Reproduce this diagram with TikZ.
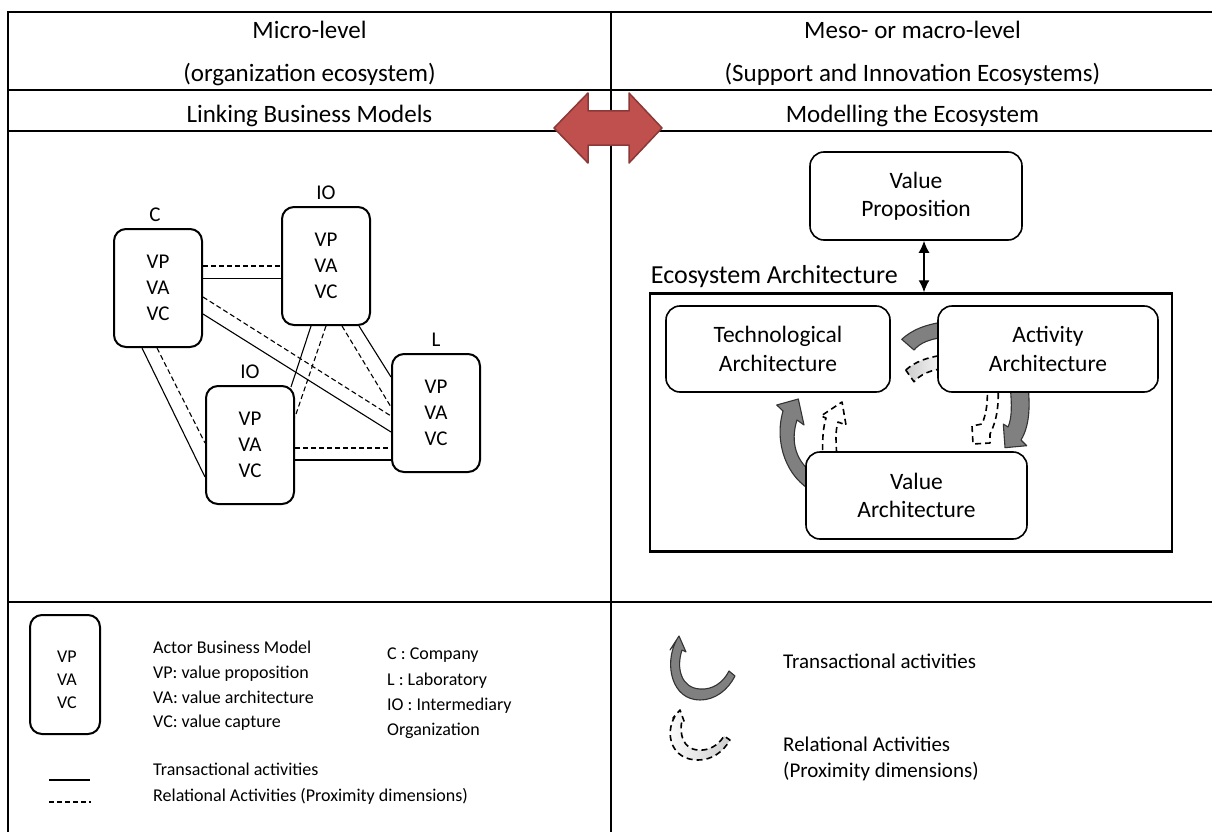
\documentclass[tikz,border=0pt]{standalone}
\usepackage{fontspec}
\setmainfont{Carlito}
\usetikzlibrary{arrows.meta,positioning}
\definecolor{bridgefill}{RGB}{192,80,77}
\definecolor{bridgeline}{RGB}{140,56,54}
\definecolor{transgray}{RGB}{128,128,128}
\definecolor{relgray}{RGB}{205,205,205}

\begin{document}
\begin{tikzpicture}[
        x=1pt, y=-1pt,
        grid/.style={line width=2pt},
        heading/.style={align=center, inner sep=0pt, font=\fontsize{25}{43}\selectfont},
        actor/.style={
            draw,
            line width=2pt,
            rounded corners=12pt,
            align=center,
            minimum width=88pt,
            minimum height=118pt,
            font=\fontsize{21}{26}\selectfont
        },
        actorname/.style={inner sep=0pt, font=\fontsize{21}{26}\selectfont},
        arch/.style={
            draw,
            fill=white,
            line width=1.6pt,
            rounded corners=14pt,
            align=center,
            minimum height=86pt,
            font=\fontsize{23.5}{28.5}\selectfont
        },
        legend/.style={anchor=north west, align=left, inner sep=0pt},
        trans/.style={line width=1.1pt},
        rel/.style={line width=1.1pt, dash pattern=on 5pt off 3pt},
        transblock/.style={fill=transgray, draw=black!80, line width=1.1pt, line join=round},
        relblock/.style={draw=black, line width=1.6pt, dash pattern=on 6pt off 4pt, line join=round},
        bi/.style={{Latex[length=12pt,width=11pt]}-{Latex[length=12pt,width=11pt]}, line width=1.4pt}
    ]
    \useasboundingbox (0,0) rectangle (1212,832);

    % table
    \draw[grid] (1230,12) -| (8,850);
    \draw[grid] (611,12) -- (611,850);
    \foreach \y in {90,131,602} {
        \draw[grid] (8,\y) -- (1230,\y);
    }

    \node[heading] (micro) at (309.5,53) {Micro-level\\(organization ecosystem)};
    \node[heading] (meso) at (912.5,53) {Meso- or macro-level\\(Support and Innovation Ecosystems)};
    \node[heading, anchor=base] (linking) at (309.5,123) {Linking Business Models};
    \node[heading, anchor=base] (modelling) at (912.5,123) {Modelling the Ecosystem};

    % actors
    \node[actor] (C) at (158,288) {VP\\VA\\VC};
    \node[actor] (IOa) at (326,266) {VP\\VA\\VC};
    \node[actor] (IOb) at (250,445) {VP\\VA\\VC};
    \node[actor] (L) at (436,413) {VP\\VA\\VC};
    \node[actorname, above=6pt of C, xshift=-3pt] (Cname) {C};
    \node[actorname, above=6pt of IOa] (IOaname) {IO};
    \node[actorname, above=6pt of IOb] (IObname) {IO};
    \node[actorname, above=6pt of L] (Lname) {L};

    \draw[rel] ([yshift=22pt]C.east) -- (IOa.west);
    \draw[trans] ([yshift=9.5pt]C.east) -- ([yshift=-12.5pt]IOa.west);
    \draw[rel] ([yshift=-9pt]C.east) -- ([yshift=-3pt]L.west);
    \draw[trans] ([yshift=-26pt]C.east) -- ([yshift=-19pt]L.west);
    \draw[trans] ([xshift=-16pt]C.south) -- ([yshift=-32pt]IOb.west);
    \draw[rel] ([xshift=-1pt]C.south) -- ([yshift=2pt]IOb.west);
    \draw[trans] ([xshift=-15pt]IOa.south) -- ([xshift=-4pt,yshift=-2pt]IOb.north east);
    \draw[rel] (IOa.south) -- ([yshift=28pt]IOb.east);
    \draw[rel] ([xshift=16pt]IOa.south) -- ([yshift=6pt]L.west);
    \draw[trans] ([xshift=33pt]IOa.south) -- ([yshift=36pt]L.west);
    \draw[rel] ([yshift=-3pt]IOb.east) -- ([yshift=-35pt]L.west);
    \draw[trans] ([yshift=-15pt]IOb.east) -- ([yshift=-47pt]L.west);

    % ecosystem side
    \node[arch, minimum width=212pt, minimum height=88pt] (VProp) at (916,196) {Value\\Proposition};
    \node[draw, line width=2.5pt, minimum width=522pt, minimum height=258pt] (EcoArch) at (911,422.5) {};
    \node[anchor=base west, inner sep=0pt, font=\fontsize{26}{30}\selectfont] (EcoLabel) at ([xshift=2pt,yshift=9pt]EcoArch.north west) {Ecosystem Architecture};
    \draw[bi] ([xshift=8pt]VProp.south) -- ([xshift=13pt]EcoArch.north);

    % curved activity arrows
    \filldraw[transblock] (901.7,339.3) .. controls (912,330) and (925,324) .. (950,321) -- (950,337) .. controls (930,338) and (920,343) .. (914,350) -- cycle;
    \path[relblock, draw, left color=relgray, right color=white] (905.7,370) .. controls (915,362) and (926,357) .. (950,354) -- (950,368) .. controls (930,369) and (920,375) .. (914,381.7) -- cycle;
    \filldraw[transblock] (814,492) .. controls (786,478) and (774,442) .. (783,411) -- (776.7,405) -- (798.3,399) -- (804,425) -- (797,420) .. controls (790,442) and (796,462) .. (814,474) -- cycle;
    \filldraw[relblock, fill=white] (823,460) .. controls (822,440) and (823,428) .. (826,418) -- (821,416) -- (842,402) -- (846,425) -- (838,422) .. controls (835,432) and (836,442) .. (837,460);
    \filldraw[transblock] (1010,385) .. controls (1012,405) and (1012,418) .. (1008,427) -- (1003.3,424) -- (1005,447.7) -- (1026.7,445.7) -- (1021,440) .. controls (1030,425) and (1030,405) .. (1028,385) -- cycle;
    \filldraw[relblock, fill=white] (987,385) .. controls (988,400) and (987,412) .. (982,424) -- (972,426) -- (973,444) -- (990,443) -- (990,434) .. controls (997,420) and (999,405) .. (998,385);

    \node[arch, minimum width=224pt] (Tech) at (778,349) {Technological\\Architecture};
    \node[arch, minimum width=220pt] (Act) at (1048,349) {Activity\\Architecture};
    \node[arch, minimum width=221pt, minimum height=87pt] (ValArch) at (916.5,495.5) {Value\\Architecture};

    % bridge arrow
    \filldraw[fill=bridgefill, draw=bridgeline, line width=1.5pt, line join=round] (554,128) -- (588,93) -- (588,111) -- (629,111) -- (629,93) -- (662,128) -- (629,163) -- (629,145) -- (588,145) -- (588,163) -- cycle;

    % legends
    \node[actor, minimum width=70pt, minimum height=119pt] (legbox) at (65,674.5) {};
    \node[inner sep=0pt, align=center, font=\fontsize{18}{23}\selectfont] (legvals) at (67,680) {VP\\VA\\VC};
    \node[legend, font=\fontsize{18}{24.7}\selectfont] (legkeys) at (153,641) {Actor Business Model\\VP: value proposition\\VA: value architecture\\VC: value capture};
    \node[legend, font=\fontsize{18}{25.3}\selectfont] (legactors) at (387,648) {C : Company\\L : Laboratory\\IO : Intermediary\\Organization};
    \coordinate (solidA) at (49,780);
    \coordinate (solidB) at (90,780);
    \coordinate (dashA) at (49,802);
    \coordinate (dashB) at (91,802);
    \draw[trans] (solidA) -- (solidB);
    \draw[rel] (dashA) -- (dashB);
    \node[legend, font=\fontsize{18}{24.7}\selectfont] (legtrans) at (153,763) {Transactional activities};
    \node[legend, font=\fontsize{18}{24.7}\selectfont] (legrel) at (153,788) {Relational Activities (Proximity dimensions)};

    \filldraw[transblock] (676,641) .. controls (664,665) and (672,700) .. (700,700) .. controls (715,700) and (728,690) .. (735,676) -- (729,671) .. controls (723,683) and (712,690) .. (700,689) .. controls (681,688) and (676,668) .. (682,650) -- (686,652) -- (679,636) -- (670,650) -- cycle;
    \path[relblock, draw, left color=white, right color=relgray] (675,716) .. controls (664,735) and (672,760) .. (698,760) .. controls (712,760) and (723,752) .. (730,740) -- (724,736) .. controls (718,746) and (708,751) .. (698,750) .. controls (683,749) and (679,734) .. (682,720) -- (684,721) -- (680,710) -- (673,718) -- cycle;
    \node[legend, font=\fontsize{21}{26}\selectfont] (legtransR) at (783,654) {Transactional activities};
    \node[legend, font=\fontsize{21}{26}\selectfont] (legrelR) at (783,737) {Relational Activities\\(Proximity dimensions)};
\end{tikzpicture}
\end{document}
